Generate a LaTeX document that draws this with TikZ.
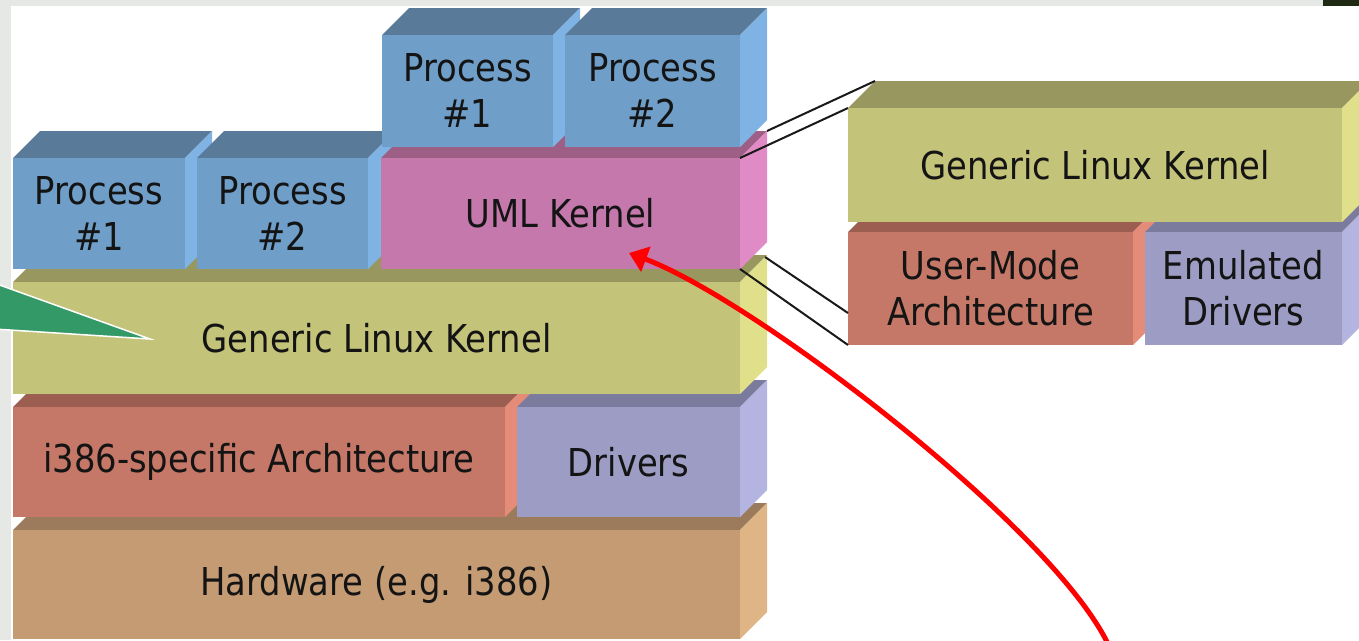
\documentclass[tikz,border=0pt]{standalone}
\usepackage{fontspec}
\setmainfont{DejaVu Sans}[FakeStretch=0.88]
\usetikzlibrary{arrows.meta}
\definecolor{bggrey}{HTML}{E6E8E6}
\definecolor{darkcorner}{HTML}{1E2A14}
\definecolor{procF}{HTML}{6F9EC8}
\definecolor{procT}{HTML}{5A7A99}
\definecolor{procS}{HTML}{7EB3E3}
\definecolor{umlF}{HTML}{C578AC}
\definecolor{umlT}{HTML}{9E5F87}
\definecolor{umlS}{HTML}{E08AC6}
\definecolor{glkF}{HTML}{C3C379}
\definecolor{glkT}{HTML}{989760}
\definecolor{glkS}{HTML}{E1E08A}
\definecolor{archF}{HTML}{C57867}
\definecolor{archT}{HTML}{9B5E50}
\definecolor{archS}{HTML}{E48C77}
\definecolor{drvF}{HTML}{9C9CC5}
\definecolor{drvT}{HTML}{7B7B9E}
\definecolor{drvS}{HTML}{B4B4E1}
\definecolor{hwF}{HTML}{C49B73}
\definecolor{hwT}{HTML}{9B7B5B}
\definecolor{hwS}{HTML}{E0B585}
\definecolor{pointer}{HTML}{339966}
\tikzset{
  face/.style={inner sep=0pt, outer sep=0pt, align=center,
    font=\fontsize{38.4}{46}\selectfont, text={black!92}},
  link/.style={draw=black!90, line width=2pt},
  redarrow/.style={draw=red, line width=5pt, -{Triangle[length=18pt,width=26pt]}},
}
\newcommand{\cubeblock}[9]{%
  \fill[#7] (#2,#3) -- (#2+27,#3-27) -- (#4+27,#3-27) -- (#4,#3) -- cycle;
  \fill[#8] (#4,#3) -- (#4+27,#3-27) -- (#4+27,#5-27) -- (#4,#5) -- cycle;
  \node[face, fill=#6, minimum width={(#4-#2)*1pt}, minimum height={(#5-#3)*1pt}]
    (#1) at ({(#2+#4)/2},{(#3+#5)/2}) {#9};
}
\begin{document}
\begin{tikzpicture}[x=1pt,y=-1pt]
\useasboundingbox (0,0) rectangle (1359,640);
\clip (0,0) rectangle (1359,640);
% background
\fill[white] (0,0) rectangle (1359,640);
\fill[bggrey] (0,0) rectangle (1359,6);
\fill[bggrey] (0,0) rectangle (11,640);
\fill[darkcorner] (1323,0) rectangle (1359,6);
% main stack, bottom to top
\cubeblock{hw}{13}{530}{740}{639}{hwF}{hwT}{hwS}{Hardware (e.g. i386)}
\cubeblock{arch}{13}{407}{505}{517}{archF}{archT}{archS}{i386-specific Architecture}
\cubeblock{drv}{517}{407}{740}{517}{drvF}{drvT}{drvS}{Drivers}
\cubeblock{glk}{13}{282}{740}{394}{glkF}{glkT}{glkS}{Generic Linux Kernel}
\cubeblock{pa}{13}{158}{185}{269}{procF}{procT}{procS}{Process\\\#1}
\cubeblock{pb}{197}{158}{368}{269}{procF}{procT}{procS}{Process\\\#2}
\cubeblock{uml}{381}{158}{740}{269}{umlF}{umlT}{umlS}{UML Kernel}
\cubeblock{pc}{382}{35}{553}{147}{procF}{procT}{procS}{Process\\\#1}
\cubeblock{pd}{565}{35}{740}{147}{procF}{procT}{procS}{Process\\\#2}
% right detail stack
\cubeblock{uma}{848}{232}{1133}{345}{archF}{archT}{archS}{User-Mode\\Architecture}
\cubeblock{emd}{1145}{232}{1342}{345}{drvF}{drvT}{drvS}{Emulated\\Drivers}
\cubeblock{rglk}{848}{108}{1342}{222}{glkF}{glkT}{glkS}{Generic Linux Kernel}
% connectors
\coordinate (umlback) at ([shift={(27,-27)}]uml.north east);
\coordinate (rglkback) at ([shift={(27,-27)}]rglk.north west);
\coordinate (glkback) at ([shift={(25,-25)}]glk.north east);
\coordinate (umaleft) at ([shift={(0,-32)}]uma.south west);
\draw[link] (umlback) -- (rglkback);
\draw[link] (uml.north east) -- (rglk.north west);
\draw[link] (glkback) -- (umaleft);
\draw[link] (uml.south east) -- (uma.south west);
% green pointer
\fill[pointer, draw=white, line width=1.5pt] (-6,283) -- (150,339) -- (-6,329) -- cycle;
% red arrow
\coordinate (arrowstart) at (1109,646);
\coordinate (umltip) at (629,253);
\draw[redarrow] (arrowstart) .. controls (1055,530) and (755,300) .. (umltip);
\end{tikzpicture}
\end{document}
